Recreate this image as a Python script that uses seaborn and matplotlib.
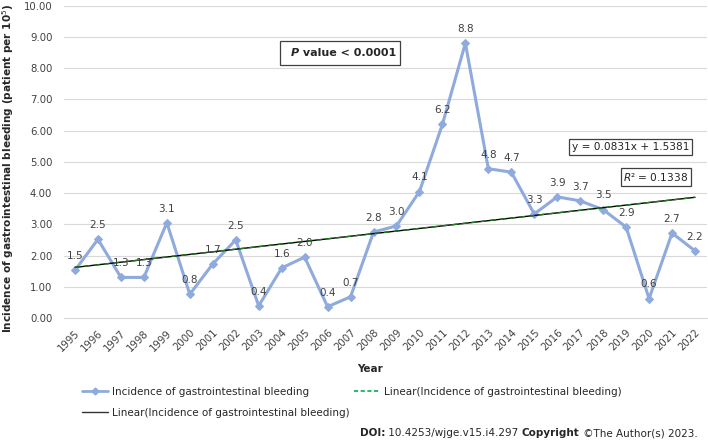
import matplotlib
matplotlib.use("Agg")
import matplotlib.pyplot as plt
import seaborn as sns
import pandas as pd
from matplotlib.lines import Line2D
from matplotlib.patches import Rectangle
from matplotlib.text import Annotation

# ---------------- data ----------------
years = list(range(1995, 2023))
incidence = [1.53, 2.52, 1.30, 1.30, 3.05, 0.76, 1.73, 2.50, 0.39, 1.60, 1.95, 0.36,
             0.68, 2.75, 2.95, 4.05, 6.20, 8.80, 4.78, 4.67, 3.33, 3.88, 3.75, 3.47,
             2.91, 0.62, 2.72, 2.15]
value_labels = ["1.5", "2.5", "1.3", "1.3", "3.1", "0.8", "1.7", "2.5", "0.4", "1.6",
                "2.0", "0.4", "0.7", "2.8", "3.0", "4.1", "6.2", "8.8", "4.8", "4.7",
                "3.3", "3.9", "3.7", "3.5", "2.9", "0.6", "2.7", "2.2"]
trend_slope = 0.0831
trend_intercept = 1.5381
y_ticks = [0, 1, 2, 3, 4, 5, 6, 7, 8, 9, 10]
series_name = "Incidence of gastrointestinal bleeding"
trend_name = "Linear(Incidence of gastrointestinal bleeding)"
p_text = " value < 0.0001"
eq_text = "y = 0.0831x + 1.5381"
r2_text = "$R$² = 0.1338"

df = pd.DataFrame({"year": years, "incidence": incidence})
df["trend"] = [trend_slope * (i + 1) + trend_intercept for i in range(len(years))]

# ---------------- style ----------------
sns.set_theme(style="white")
plt.rcParams["font.family"] = ["DejaVu Sans"]

W, H = 708, 440
fig = plt.figure(figsize=(W / 100, H / 100), dpi=100)
ax = fig.add_axes([63.5 / W, (H - 318) / H, 643 / W, (318 - 5.7) / H])

LINE_C = "#8FAADC"

sns.lineplot(data=df, x="year", y="incidence", ax=ax, color=LINE_C, linewidth=2.2,
             marker="D", markersize=4.5, markeredgecolor=LINE_C, zorder=3)
sns.lineplot(data=df, x="year", y="trend", ax=ax, color="black", linewidth=1.0, zorder=4)
sns.lineplot(data=df, x="year", y="trend", ax=ax, color="#1E7B1E", linewidth=1.0,
             linestyle=(0, (4, 3)), zorder=5)

for x, y, lab in zip(df["year"], df["incidence"], value_labels):
    ax.annotate(lab, (x, y), xytext=(0, 10.2), textcoords="offset points",
                ha="center", va="center", fontsize=7.5, color="#404040", zorder=6)

ax.set_xlim(years[0] - 0.5, years[-1] + 0.5)
ax.set_ylim(0, 10)
ax.set_yticks(y_ticks)
ax.set_yticklabels([f"{v:.2f}" for v in y_ticks], fontsize=7.3, color="#404040")
ax.set_xticks(years)
ax.set_xticklabels([str(y) for y in years], rotation=45, ha="right",
                   rotation_mode="anchor", fontsize=7.3, color="#404040")
ax.tick_params(axis="x", length=0, pad=7)
ax.tick_params(axis="y", length=0, pad=8)
ax.grid(axis="y", color="#D9D9D9", linewidth=0.8)
ax.grid(axis="x", visible=False)
for s in ["top", "right", "left"]:
    ax.spines[s].set_visible(False)
ax.spines["bottom"].set_color("#D9D9D9")
ax.spines["bottom"].set_linewidth(0.8)
ax.set_xlabel("")
ax.set_ylabel("")

# axis titles
fig.text(8 / W, 1 - 168 / H, "Incidence of gastrointestinal bleeding (patient per 10$^5$)",
         rotation=90, ha="center", va="center", fontsize=7.6, fontweight="bold")
fig.text(370 / W, 1 - 369 / H, "Year", ha="center", va="center", fontsize=7.5,
         fontweight="bold")

# P value box
fig.patches.append(Rectangle((280 / W, 1 - 65 / H), 120 / W, 24 / H,
                             transform=fig.transFigure, facecolor="white",
                             edgecolor="#404040", linewidth=0.9, zorder=5))
tp = fig.text(291 / W, 1 - 53 / H, "P", ha="left", va="center", fontsize=8,
              fontweight="bold", fontstyle="italic", zorder=6)
fig.add_artist(Annotation(p_text, xy=(1, 0), xycoords=tp, ha="left", va="bottom",
                          fontsize=8, fontweight="bold", annotation_clip=False, zorder=6))

# equation boxes
box = dict(boxstyle="square,pad=0.25", facecolor="white", edgecolor="#404040", linewidth=0.9)
fig.text(630.5 / W, 1 - 147 / H, eq_text, ha="center", va="center", fontsize=7.6,
         color="#222222", bbox=box, zorder=6)
fig.text(656 / W, 1 - 177 / H, r2_text, ha="center", va="center", fontsize=7.6,
         color="#222222", bbox=box, zorder=6)

# legend
h1 = Line2D([], [], color=LINE_C, linewidth=2.0, marker="D", markersize=3.5)
h2 = Line2D([], [], color="#00B050", linewidth=1.2, linestyle=(0, (2.5, 1.5)))
h3 = Line2D([], [], color="#333333", linewidth=1.0)
fig.legend([h1, h3, h2], [series_name, trend_name, trend_name], ncol=2,
           loc="upper left", bbox_to_anchor=(82 / W, 1 - 387 / H), frameon=False,
           fontsize=7.5, handlelength=2.5, handletextpad=0.4, columnspacing=0.4,
           labelspacing=1.05, borderpad=0, borderaxespad=0)

# source line
t1 = fig.text(360 / W, 1 - 436 / H, "DOI:", ha="left", va="baseline", fontsize=7.5,
              fontweight="bold")
t2 = fig.add_artist(Annotation(" 10.4253/wjge.v15.i4.297 ", xy=(1, 0), xycoords=t1,
                               ha="left", va="bottom", fontsize=7.5, annotation_clip=False))
t3 = fig.add_artist(Annotation("Copyright", xy=(1, 0), xycoords=t2, ha="left", va="bottom",
                               fontsize=7.5, fontweight="bold", annotation_clip=False))
fig.add_artist(Annotation(" ©The Author(s) 2023.", xy=(1, 0), xycoords=t3, ha="left",
                          va="bottom", fontsize=7.5, annotation_clip=False))

fig.savefig("out.png", dpi=100, facecolor="white")
